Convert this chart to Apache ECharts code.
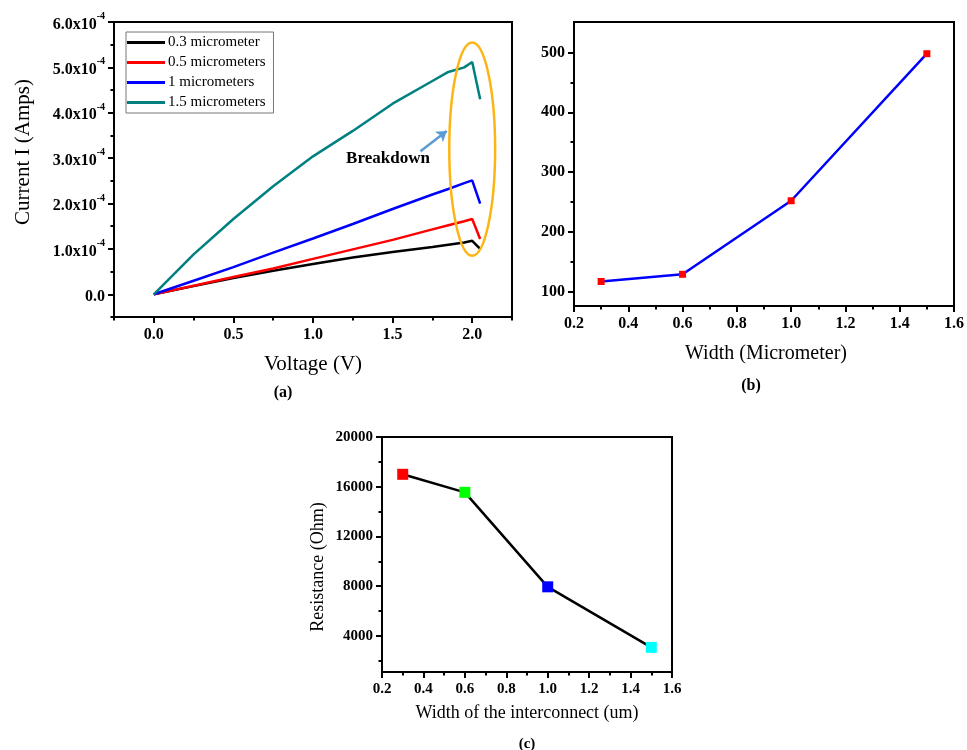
<!DOCTYPE html>
<html>
<head>
<meta charset="utf-8">
<style>
  html, body { margin: 0; padding: 0; background: #fff; }
  #chart { width: 967px; height: 750px; }
</style>
<script src="https://cdn.jsdelivr.net/npm/echarts@6/dist/echarts.min.js"></script>
</head>
<body>
<div id="chart"></div>
<script>
// ---- (a) I-V curves, current in units of 1e-4 A ----
const voltage = [0, 0.25, 0.5, 0.75, 1.0, 1.25, 1.5, 1.75, 1.85, 1.95, 2.0, 2.05];
const current03 = [0, 0.18, 0.36, 0.52, 0.67, 0.81, 0.93, 1.04, 1.09, 1.14, 1.18, 1.0];
const current05 = [0, 0.19, 0.38, 0.57, 0.78, 0.99, 1.2, 1.43, 1.52, 1.61, 1.66, 1.22];
const current10 = [0, 0.3, 0.6, 0.92, 1.23, 1.55, 1.88, 2.2, 2.32, 2.45, 2.51, 2.0];
const current15 = [0, 0.88, 1.66, 2.38, 3.04, 3.6, 4.2, 4.7, 4.9, 5.0, 5.12, 4.3];
const seriesNamesA = ["0.3 micrometer", "0.5 micrometers", "1 micrometers", "1.5 micrometers"];

// ---- (b) ----
const widthB = [0.3, 0.6, 1.0, 1.5];
const valueB = [117, 129, 252, 498];

// ---- (c) ----
const widthC = [0.3, 0.6, 1.0, 1.5];
const resistanceC = [17000, 15550, 7950, 3080];

// ---- ticks ----
const aXTicks = [0, 0.5, 1.0, 1.5, 2.0];
const aXMinor = [-0.25, 0.25, 0.75, 1.25, 1.75, 2.25];
const aYTicks = [0, 1, 2, 3, 4, 5, 6];
const aYMinor = [-0.5, 0.5, 1.5, 2.5, 3.5, 4.5, 5.5];
const widthTicks = [0.2, 0.4, 0.6, 0.8, 1.0, 1.2, 1.4, 1.6];
const widthMinor = [0.3, 0.5, 0.7, 0.9, 1.1, 1.3, 1.5];
const bYTicks = [100, 200, 300, 400, 500];
const bYMinor = [150, 250, 350, 450];
const cYTicks = [4000, 8000, 12000, 16000, 20000];
const cYMinor = [2000, 6000, 10000, 14000, 18000];

const SERIF = "Liberation Serif, Times New Roman, serif";
const colorsA = ["#000000", "#ff0000", "#0000ff", "#008080"];
const colorsC = ["#ff0000", "#00ff00", "#0000ff", "#00ffff"];

// major axis (labels + long ticks) and a twin for the short minor ticks
function axisPair(position, gridIndex, min, max, major, minor, formatter, fontSize, rich) {
  const isX = position === "bottom";
  const main = {
    type: "value",
    gridIndex,
    position,
    min,
    max,
    axisLine: { show: true, onZero: false, lineStyle: { color: "#000", width: 2 } },
    axisTick: { show: true, customValues: major, length: 6, lineStyle: { color: "#000", width: 2 } },
    axisLabel: {
      customValues: major,
      formatter,
      margin: isX ? 10 : 9,
      color: "#000",
      fontFamily: SERIF,
      fontWeight: "bold",
      fontSize,
      rich,
    },
    splitLine: { show: false },
  };
  const twin = {
    type: "value",
    gridIndex,
    position,
    min,
    max,
    axisLine: { show: false, onZero: false },
    axisTick: { show: true, customValues: minor, length: 3.5, lineStyle: { color: "#000", width: 2 } },
    axisLabel: { show: false },
    splitLine: { show: false },
  };
  return [main, twin];
}

const supRich = {
  b: { fontFamily: SERIF, fontWeight: "bold", fontSize: 16, color: "#000", padding: [5, 0, 0, 0] },
  s: { fontFamily: SERIF, fontWeight: "bold", fontSize: 10, color: "#000", verticalAlign: "top" },
};

const chartDom = document.getElementById("chart");
const myChart = echarts.init(chartDom, null, { renderer: "canvas" });

const xAxes = [
  ...axisPair("bottom", 0, -0.25, 2.25, aXTicks, aXMinor, (v) => v.toFixed(1), 16),
  ...axisPair("bottom", 1, 0.2, 1.6, widthTicks, widthMinor, (v) => v.toFixed(1), 16),
  ...axisPair("bottom", 2, 0.2, 1.6, widthTicks, widthMinor, (v) => v.toFixed(1), 15),
];
const yAxes = [
  ...axisPair("left", 0, -0.5, 6, aYTicks, aYMinor,
    (v) => (v === 0 ? "{b|0.0}" : `{b|${v.toFixed(1)}x10}{s|-4}`), 16, supRich),
  ...axisPair("left", 1, 76, 551, bYTicks, bYMinor, (v) => String(v), 16),
  ...axisPair("left", 2, 1100, 20000, cYTicks, cYMinor, (v) => String(v), 15),
];

const seriesA = [current03, current05, current10, current15].map((arr, i) => ({
  name: seriesNamesA[i],
  type: "line",
  xAxisIndex: 0,
  yAxisIndex: 0,
  data: voltage.map((v, k) => [v, arr[k]]),
  symbol: "none",
  lineStyle: { color: colorsA[i], width: 2.5 },
  itemStyle: { color: colorsA[i] },
  z: 3,
}));

// blue arrow pointing at the breakdown region
seriesA[3].markLine = {
  silent: true,
  symbol: ["none", "arrow"],
  symbolSize: 10,
  label: { show: false },
  lineStyle: { color: "#5b9bd5", width: 2.5, type: "solid" },
  data: [[{ coord: [1.675, 3.15] }, { coord: [1.84, 3.6] }]],
};

const option = {
  animation: false,
  backgroundColor: "#fff",
  grid: [
    { left: 114, top: 22, width: 398, height: 295, show: true, borderColor: "#000", borderWidth: 2 },
    { left: 574, top: 22, width: 383, height: 284, show: true, borderColor: "#000", borderWidth: 2 },
    { left: 382, top: 437, width: 290, height: 235, show: true, borderColor: "#000", borderWidth: 2 },
  ],
  legend: {
    data: seriesNamesA,
    orient: "vertical",
    left: 126,
    top: 32,
    icon: "path://M0,0H38V3H0Z",
    itemWidth: 38,
    itemHeight: 14,
    itemGap: 5,
    padding: [3, 8, 3, 1],
    borderColor: "#777",
    borderWidth: 1,
    selectedMode: false,
    textStyle: { fontFamily: SERIF, fontSize: 15, color: "#000", padding: [0, 0, 0, -2] },
  },
  xAxis: xAxes,
  yAxis: yAxes,
  series: [
    ...seriesA,
    {
      name: "width",
      type: "line",
      xAxisIndex: 2,
      yAxisIndex: 2,
      data: widthB.map((w, i) => [w, valueB[i]]),
      symbol: "rect",
      symbolSize: 7,
      lineStyle: { color: "#0000ff", width: 2.5 },
      itemStyle: { color: "#ff0000" },
    },
    {
      name: "resistance",
      type: "line",
      xAxisIndex: 4,
      yAxisIndex: 4,
      data: widthC.map((w, i) => ({ value: [w, resistanceC[i]], itemStyle: { color: colorsC[i] } })),
      symbol: "rect",
      symbolSize: 11,
      lineStyle: { color: "#000", width: 2.5 },
    },
  ],
};

myChart.setOption(option);

function label(text, x, y, size, opts = {}) {
  return {
    type: "text",
    x,
    y,
    rotation: opts.rotate ? Math.PI / 2 : 0,
    z: 10,
    style: {
      text,
      fill: "#000",
      fontFamily: SERIF,
      fontSize: size,
      fontWeight: opts.bold ? "bold" : "normal",
      align: "center",
      verticalAlign: "middle",
    },
  };
}

// orange ellipse around the breakdown points, placed in data space of (a)
const c0 = myChart.convertToPixel({ seriesIndex: 3 }, [2.0, 3.2]);
const cR = myChart.convertToPixel({ seriesIndex: 3 }, [2.144, 3.2]);
const cT = myChart.convertToPixel({ seriesIndex: 3 }, [2.0, 5.55]);

myChart.setOption({
  graphic: [
    label("Current I (Amps)", 23, 152, 21, { rotate: true }),
    label("Voltage (V)", 313, 364, 21),
    label("(a)", 283, 393, 16, { bold: true }),
    label("Width (Micrometer)", 766, 354, 20),
    label("(b)", 751, 386, 16, { bold: true }),
    label("Resistance (Ohm)", 318, 567, 18, { rotate: true }),
    label("Width of the interconnect (um)", 527, 713, 18),
    label("(c)", 527, 744, 15, { bold: true }),
    label("Breakdown", 388, 159, 17, { bold: true }),
    {
      type: "ellipse",
      z: 10,
      shape: { cx: c0[0], cy: c0[1], rx: cR[0] - c0[0], ry: c0[1] - cT[1] },
      style: { fill: "none", stroke: "#fdb515", lineWidth: 2.5 },
    },
  ],
});

window.addEventListener("resize", () => {
  myChart.resize();
});
</script>
</body>
</html>
